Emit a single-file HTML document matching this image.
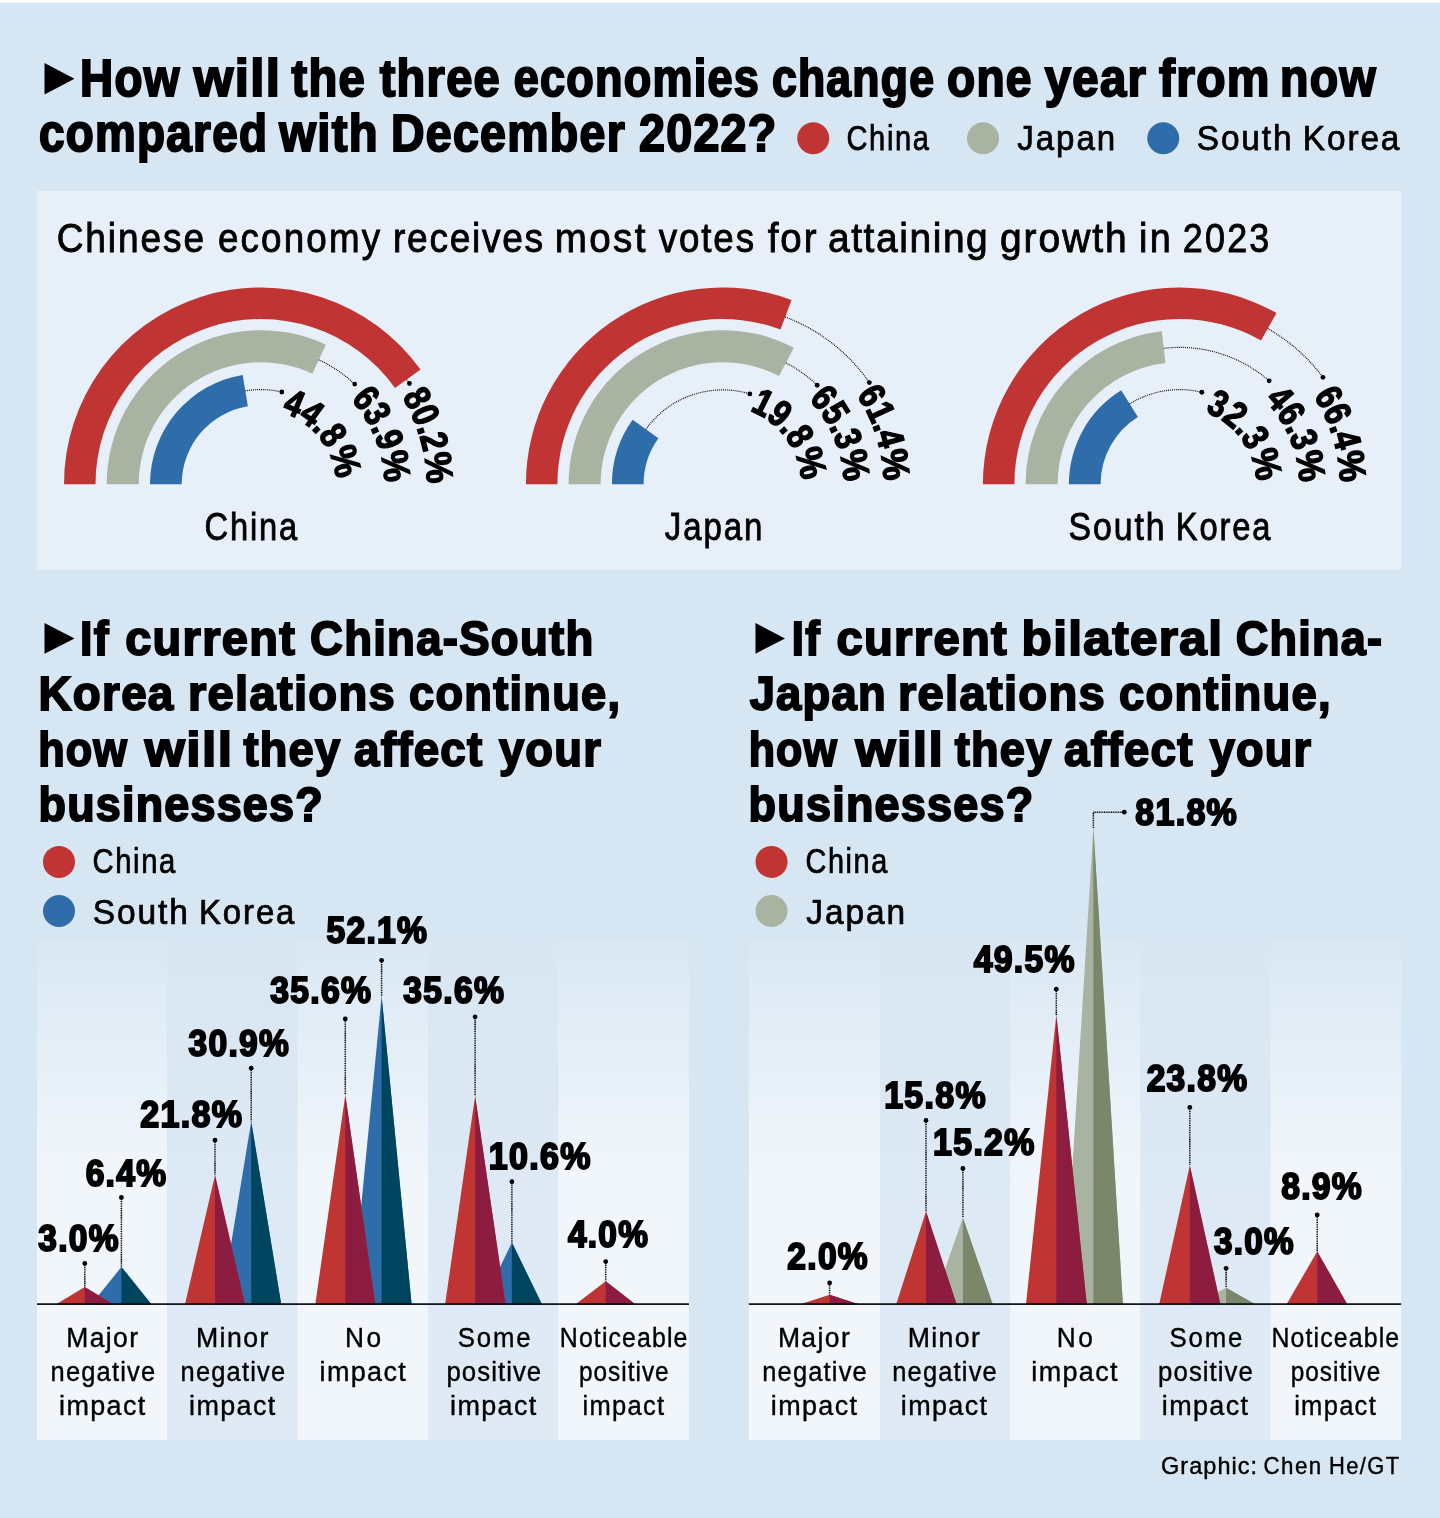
<!DOCTYPE html>
<html lang="en"><head><meta charset="utf-8"><title>How will the three economies change one year from now</title>
<style>
html,body{margin:0;padding:0;background:#d6e6f3;overflow:hidden;}
svg{display:block}
text{font-family:"Liberation Sans",sans-serif;fill:#000;stroke:#000;stroke-linejoin:miter;stroke-miterlimit:3;}
.b text,.b{font-weight:bold}
.r{font-weight:normal}
</style></head>
<body>
<svg width="1440" height="1518" viewBox="0 0 1440 1518">
<defs>
<linearGradient id="cg" gradientUnits="userSpaceOnUse" x1="0" y1="940" x2="0" y2="1440">
<stop offset="0" stop-color="#dae8f4"/><stop offset="0.48" stop-color="#f1f6fb"/><stop offset="1" stop-color="#f1f6fb"/>
</linearGradient>
<linearGradient id="cf" gradientUnits="userSpaceOnUse" x1="0" y1="940" x2="0" y2="1440"><stop offset="0" stop-color="#d8e7f3"/><stop offset="0.5" stop-color="#dde9f5"/><stop offset="1" stop-color="#dfeaf5"/></linearGradient>
<path id="c1" d="M401.71 396.79 A165.90 165.90 0 0 1 411.06 554.31"/><path id="c2" d="M350.66 399.58 A123.50 123.50 0 0 1 372.63 536.39"/><path id="c3" d="M281.40 412.22 A74.90 74.90 0 0 1 328.58 515.85"/><path id="c4" d="M856.38 394.63 A161.00 161.00 0 0 1 868.52 552.24"/><path id="c5" d="M808.54 399.30 A120.80 120.80 0 0 1 832.08 535.25"/><path id="c6" d="M749.68 410.73 A78.30 78.30 0 0 1 793.56 517.29"/><path id="c7" d="M1313.32 395.98 A160.20 160.20 0 0 1 1324.79 551.90"/><path id="c8" d="M1264.47 400.07 A119.50 119.50 0 0 1 1287.90 534.70"/><path id="c9" d="M1204.89 412.11 A76.40 76.40 0 0 1 1248.84 516.49"/>
</defs>
<rect x="0" y="0" width="1440" height="1518" fill="#d6e6f3"/>
<rect x="0" y="0" width="1440" height="2.6" fill="#ffffff"/>
<rect x="37" y="190.7" width="1364.3" height="379.3" fill="#e7eff8"/>
<polygon points="44.5,63 74.5,78.75 44.5,94.5" fill="#000"/>
<polygon points="44.5,623 74.5,638.375 44.5,653.75" fill="#000"/>
<polygon points="755.5,623 785,638.375 755.5,653.75" fill="#000"/>
<circle cx="813.25" cy="138.25" r="16" fill="#c03533"/>
<circle cx="983" cy="138.25" r="16" fill="#a9b3a2"/>
<circle cx="1163.25" cy="138.25" r="16" fill="#2f6caa"/>
<circle cx="59" cy="861.9" r="16" fill="#c03533"/>
<circle cx="59" cy="911" r="16" fill="#2f6caa"/>
<circle cx="771.5" cy="861.9" r="16" fill="#c03533"/>
<circle cx="771.5" cy="911" r="16" fill="#a9b3a2"/>
<path d="M64.00 484.20 A196.7 196.7 0 0 1 420.56 369.58 L394.96 387.94 A165.2 165.2 0 0 0 95.50 484.20 Z" fill="#c03533"/>
<circle cx="409.42" cy="383.51" r="2.4" fill="#000"/>
<path d="M406.66 379.55 A179.6 179.6 0 0 1 409.42 383.51" fill="none" stroke="#000" stroke-width="1.15" stroke-dasharray="0.95 1.0"/>
<path d="M106.70 484.20 A154 154 0 0 1 325.83 344.65 L312.30 373.65 A122 122 0 0 0 138.70 484.20 Z" fill="#a9b3a2"/>
<circle cx="354.69" cy="384.11" r="2.4" fill="#000"/>
<path d="M318.77 359.78 A137.3 137.3 0 0 1 354.69 384.11" fill="none" stroke="#000" stroke-width="1.15" stroke-dasharray="0.95 1.0"/>
<path d="M150.00 484.20 A110.7 110.7 0 0 1 242.70 374.97 L247.85 406.25 A79 79 0 0 0 181.70 484.20 Z" fill="#2f6caa"/>
<circle cx="281.82" cy="391.99" r="2.4" fill="#000"/>
<path d="M245.31 390.86 A94.6 94.6 0 0 1 281.82 391.99" fill="none" stroke="#000" stroke-width="1.15" stroke-dasharray="0.95 1.0"/>
<path d="M525.90 484.20 A196.7 196.7 0 0 1 791.55 299.98 L780.51 329.48 A165.2 165.2 0 0 0 557.40 484.20 Z" fill="#c03533"/>
<circle cx="869.35" cy="382.58" r="2.4" fill="#000"/>
<path d="M785.17 317.03 A178.5 178.5 0 0 1 869.35 382.58" fill="none" stroke="#000" stroke-width="1.15" stroke-dasharray="0.95 1.0"/>
<path d="M568.60 484.20 A154 154 0 0 1 793.80 347.65 L779.01 376.02 A122 122 0 0 0 600.60 484.20 Z" fill="#a9b3a2"/>
<circle cx="817.18" cy="385.23" r="2.4" fill="#000"/>
<path d="M785.90 362.81 A136.9 136.9 0 0 1 817.18 385.23" fill="none" stroke="#000" stroke-width="1.15" stroke-dasharray="0.95 1.0"/>
<path d="M611.90 484.20 A110.7 110.7 0 0 1 632.63 419.70 L658.40 438.17 A79 79 0 0 0 643.60 484.20 Z" fill="#2f6caa"/>
<circle cx="749.86" cy="393.92" r="2.4" fill="#000"/>
<path d="M645.96 429.25 A94.3 94.3 0 0 1 749.86 393.92" fill="none" stroke="#000" stroke-width="1.15" stroke-dasharray="0.95 1.0"/>
<path d="M982.90 484.20 A196.7 196.7 0 0 1 1276.52 313.03 L1261.00 340.45 A165.2 165.2 0 0 0 1014.40 484.20 Z" fill="#c03533"/>
<circle cx="1322.96" cy="377.34" r="2.4" fill="#000"/>
<path d="M1267.70 328.61 A178.8 178.8 0 0 1 1322.96 377.34" fill="none" stroke="#000" stroke-width="1.15" stroke-dasharray="0.95 1.0"/>
<path d="M1025.60 484.20 A154 154 0 0 1 1161.74 331.24 L1165.45 363.02 A122 122 0 0 0 1057.60 484.20 Z" fill="#a9b3a2"/>
<circle cx="1269.17" cy="380.80" r="2.4" fill="#000"/>
<path d="M1163.73 348.32 A136.8 136.8 0 0 1 1269.17 380.80" fill="none" stroke="#000" stroke-width="1.15" stroke-dasharray="0.95 1.0"/>
<path d="M1068.90 484.20 A110.7 110.7 0 0 1 1121.17 390.18 L1137.90 417.10 A79 79 0 0 0 1100.60 484.20 Z" fill="#2f6caa"/>
<circle cx="1201.84" cy="392.25" r="2.4" fill="#000"/>
<path d="M1129.67 403.85 A94.6 94.6 0 0 1 1201.84 392.25" fill="none" stroke="#000" stroke-width="1.15" stroke-dasharray="0.95 1.0"/>
<rect x="37" y="940.3" width="130.00" height="499.70" fill="url(#cg)"/>
<rect x="167" y="940.3" width="130.50" height="499.70" fill="url(#cf)"/>
<rect x="297.5" y="940.3" width="130.50" height="499.70" fill="url(#cg)"/>
<rect x="428" y="940.3" width="130.00" height="499.70" fill="url(#cf)"/>
<rect x="558" y="940.3" width="131.00" height="499.70" fill="url(#cg)"/>
<polygon points="91.40,1304.2 121.40,1266.90 151.40,1304.2" fill="#2f6caa"/>
<polygon points="121.40,1304.2 121.40,1266.90 151.40,1304.2" fill="#004560"/>
<polygon points="56.10,1304.2 84.70,1286.90 113.30,1304.2" fill="#c03533"/>
<polygon points="84.70,1304.2 84.70,1286.90 113.30,1304.2" fill="#8c1d40"/>
<polygon points="221.20,1304.2 251.20,1121.40 281.20,1304.2" fill="#2f6caa"/>
<polygon points="251.20,1304.2 251.20,1121.40 281.20,1304.2" fill="#004560"/>
<polygon points="185.00,1304.2 215.00,1175.30 245.00,1304.2" fill="#c03533"/>
<polygon points="215.00,1304.2 215.00,1175.30 245.00,1304.2" fill="#8c1d40"/>
<polygon points="351.60,1304.2 381.60,996.30 411.60,1304.2" fill="#2f6caa"/>
<polygon points="381.60,1304.2 381.60,996.30 411.60,1304.2" fill="#004560"/>
<polygon points="315.30,1304.2 345.30,1095.00 375.30,1304.2" fill="#c03533"/>
<polygon points="345.30,1304.2 345.30,1095.00 375.30,1304.2" fill="#8c1d40"/>
<polygon points="481.90,1304.2 511.90,1242.60 541.90,1304.2" fill="#2f6caa"/>
<polygon points="511.90,1304.2 511.90,1242.60 541.90,1304.2" fill="#004560"/>
<polygon points="445.10,1304.2 475.10,1096.00 505.60,1304.2" fill="#c03533"/>
<polygon points="475.10,1304.2 475.10,1096.00 505.60,1304.2" fill="#8c1d40"/>
<polygon points="575.70,1304.2 605.70,1281.30 635.30,1304.2" fill="#c03533"/>
<polygon points="605.70,1304.2 605.70,1281.30 635.30,1304.2" fill="#8c1d40"/>
<line x1="84.8" y1="1263.5" x2="84.8" y2="1286.9" stroke="#000" stroke-width="1.5" stroke-dasharray="1.06 0.7"/>
<circle cx="84.8" cy="1263.5" r="2.4" fill="#000"/>
<line x1="121.4" y1="1197.5" x2="121.4" y2="1266.9" stroke="#000" stroke-width="1.5" stroke-dasharray="1.06 0.7"/>
<circle cx="121.4" cy="1197.5" r="2.4" fill="#000"/>
<line x1="215" y1="1140.2" x2="215" y2="1175.3" stroke="#000" stroke-width="1.5" stroke-dasharray="1.06 0.7"/>
<circle cx="215" cy="1140.2" r="2.4" fill="#000"/>
<line x1="251.2" y1="1068.2" x2="251.2" y2="1121.4" stroke="#000" stroke-width="1.5" stroke-dasharray="1.06 0.7"/>
<circle cx="251.2" cy="1068.2" r="2.4" fill="#000"/>
<line x1="345.3" y1="1019" x2="345.3" y2="1095" stroke="#000" stroke-width="1.5" stroke-dasharray="1.06 0.7"/>
<circle cx="345.3" cy="1019" r="2.4" fill="#000"/>
<line x1="381.6" y1="960.3" x2="381.6" y2="996.3" stroke="#000" stroke-width="1.5" stroke-dasharray="1.06 0.7"/>
<circle cx="381.6" cy="960.3" r="2.4" fill="#000"/>
<line x1="475.1" y1="1016.8" x2="475.1" y2="1096" stroke="#000" stroke-width="1.5" stroke-dasharray="1.06 0.7"/>
<circle cx="475.1" cy="1016.8" r="2.4" fill="#000"/>
<line x1="511.9" y1="1181.7" x2="511.9" y2="1242.6" stroke="#000" stroke-width="1.5" stroke-dasharray="1.06 0.7"/>
<circle cx="511.9" cy="1181.7" r="2.4" fill="#000"/>
<line x1="605.7" y1="1261.6" x2="605.7" y2="1281.3" stroke="#000" stroke-width="1.5" stroke-dasharray="1.06 0.7"/>
<circle cx="605.7" cy="1261.6" r="2.4" fill="#000"/>
<rect x="37" y="1303.30" width="652.00" height="1.6" fill="#000"/>
<rect x="748.8" y="940.3" width="131.20" height="499.70" fill="url(#cg)"/>
<rect x="880" y="940.3" width="130.20" height="499.70" fill="url(#cf)"/>
<rect x="1010.2" y="940.3" width="130.40" height="499.70" fill="url(#cg)"/>
<rect x="1140.6" y="940.3" width="129.80" height="499.70" fill="url(#cf)"/>
<rect x="1270.4" y="940.3" width="130.80" height="499.70" fill="url(#cg)"/>
<polygon points="800.40,1304.2 829.60,1294.80 858.80,1304.2" fill="#c03533"/>
<polygon points="829.60,1304.2 829.60,1294.80 858.80,1304.2" fill="#8c1d40"/>
<polygon points="932.90,1304.2 962.90,1217.70 992.70,1304.2" fill="#a9b3a2"/>
<polygon points="962.90,1304.2 962.90,1217.70 992.70,1304.2" fill="#7b866a"/>
<polygon points="896.20,1304.2 926.00,1211.50 956.50,1304.2" fill="#c03533"/>
<polygon points="926.00,1304.2 926.00,1211.50 956.50,1304.2" fill="#8c1d40"/>
<polygon points="1063.90,1304.2 1093.40,828.00 1122.90,1304.2" fill="#a9b3a2"/>
<polygon points="1093.40,1304.2 1093.40,828.00 1122.90,1304.2" fill="#7b866a"/>
<polygon points="1026.00,1304.2 1056.30,1014.90 1086.80,1304.2" fill="#c03533"/>
<polygon points="1056.30,1304.2 1056.30,1014.90 1086.80,1304.2" fill="#8c1d40"/>
<polygon points="1196.60,1304.2 1226.10,1287.80 1255.30,1304.2" fill="#a9b3a2"/>
<polygon points="1226.10,1304.2 1226.10,1287.80 1255.30,1304.2" fill="#7b866a"/>
<polygon points="1159.20,1304.2 1189.80,1165.40 1220.40,1304.2" fill="#c03533"/>
<polygon points="1189.80,1304.2 1189.80,1165.40 1220.40,1304.2" fill="#8c1d40"/>
<polygon points="1286.60,1304.2 1317.20,1251.50 1347.20,1304.2" fill="#c03533"/>
<polygon points="1317.20,1304.2 1317.20,1251.50 1347.20,1304.2" fill="#8c1d40"/>
<line x1="829.6" y1="1283" x2="829.6" y2="1294.8" stroke="#000" stroke-width="1.5" stroke-dasharray="1.06 0.7"/>
<circle cx="829.6" cy="1283" r="2.4" fill="#000"/>
<line x1="926" y1="1120.4" x2="926" y2="1211.5" stroke="#000" stroke-width="1.5" stroke-dasharray="1.06 0.7"/>
<circle cx="926" cy="1120.4" r="2.4" fill="#000"/>
<line x1="962.9" y1="1168.5" x2="962.9" y2="1217.7" stroke="#000" stroke-width="1.5" stroke-dasharray="1.06 0.7"/>
<circle cx="962.9" cy="1168.5" r="2.4" fill="#000"/>
<line x1="1056.3" y1="989.2" x2="1056.3" y2="1014.9" stroke="#000" stroke-width="1.5" stroke-dasharray="1.06 0.7"/>
<circle cx="1056.3" cy="989.2" r="2.4" fill="#000"/>
<path d="M1093.4 828 L1093.4 812.2 L1124.3 812.2" fill="none" stroke="#000" stroke-width="1.5" stroke-dasharray="1.06 0.7"/>
<circle cx="1124.3" cy="812.2" r="2.4" fill="#000"/>
<line x1="1189.8" y1="1107.4" x2="1189.8" y2="1165.4" stroke="#000" stroke-width="1.5" stroke-dasharray="1.06 0.7"/>
<circle cx="1189.8" cy="1107.4" r="2.4" fill="#000"/>
<line x1="1226.1" y1="1268.3" x2="1226.1" y2="1287.8" stroke="#000" stroke-width="1.5" stroke-dasharray="1.06 0.7"/>
<circle cx="1226.1" cy="1268.3" r="2.4" fill="#000"/>
<line x1="1317.2" y1="1214.9" x2="1317.2" y2="1251.5" stroke="#000" stroke-width="1.5" stroke-dasharray="1.06 0.7"/>
<circle cx="1317.2" cy="1214.9" r="2.4" fill="#000"/>
<rect x="748.8" y="1303.30" width="652.40" height="1.6" fill="#000"/>
<text class="b" y="96.19" font-size="51.28" stroke-width="2.02"><tspan x="80.03" textLength="100.67" lengthAdjust="spacingAndGlyphs" letter-spacing="1.411">How</tspan> <tspan x="193.80" textLength="87.61" lengthAdjust="spacingAndGlyphs" letter-spacing="1.411">will</tspan> <tspan x="291.43" textLength="74.62" lengthAdjust="spacingAndGlyphs" letter-spacing="1.411">the</tspan> <tspan x="379.67" textLength="121.37" lengthAdjust="spacingAndGlyphs" letter-spacing="1.411">three</tspan> <tspan x="513.73" textLength="246.45" lengthAdjust="spacingAndGlyphs" letter-spacing="1.411">economies</tspan> <tspan x="771.98" textLength="163.22" lengthAdjust="spacingAndGlyphs" letter-spacing="1.411">change</tspan> <tspan x="946.97" textLength="85.80" lengthAdjust="spacingAndGlyphs" letter-spacing="1.411">one</tspan> <tspan x="1044.68" textLength="102.61" lengthAdjust="spacingAndGlyphs" letter-spacing="1.411">year</tspan> <tspan x="1158.94" textLength="111.86" lengthAdjust="spacingAndGlyphs" letter-spacing="1.411">from</tspan> <tspan x="1280.01" textLength="96.95" lengthAdjust="spacingAndGlyphs" letter-spacing="1.411">now</tspan></text>
<text class="b" y="150.79" font-size="51.28" stroke-width="2.02"><tspan x="38.97" textLength="229.33" lengthAdjust="spacingAndGlyphs" letter-spacing="1.411">compared</tspan> <tspan x="279.17" textLength="99.74" lengthAdjust="spacingAndGlyphs" letter-spacing="1.411">with</tspan> <tspan x="391.01" textLength="235.02" lengthAdjust="spacingAndGlyphs" letter-spacing="1.411">December</tspan> <tspan x="638.96" textLength="138.66" lengthAdjust="spacingAndGlyphs" letter-spacing="1.411">2022?</tspan></text>
<text class="b" y="654.54" font-size="48.81" stroke-width="1.92"><tspan x="80.08" textLength="29.79" lengthAdjust="spacingAndGlyphs" letter-spacing="1.343">If</tspan> <tspan x="125.21" textLength="170.89" lengthAdjust="spacingAndGlyphs" letter-spacing="1.343">current</tspan> <tspan x="309.97" textLength="284.59" lengthAdjust="spacingAndGlyphs" letter-spacing="1.343">China-South</tspan></text>
<text class="b" y="710.29" font-size="48.81" stroke-width="1.92"><tspan x="38.54" textLength="136.03" lengthAdjust="spacingAndGlyphs" letter-spacing="1.343">Korea</tspan> <tspan x="187.98" textLength="208.05" lengthAdjust="spacingAndGlyphs" letter-spacing="1.343">relations</tspan> <tspan x="408.98" textLength="212.30" lengthAdjust="spacingAndGlyphs" letter-spacing="1.343">continue,</tspan></text>
<text class="b" y="765.54" font-size="48.81" stroke-width="1.92"><tspan x="38.15" textLength="90.05" lengthAdjust="spacingAndGlyphs" letter-spacing="1.343">how</tspan> <tspan x="144.82" textLength="88.63" lengthAdjust="spacingAndGlyphs" letter-spacing="1.343">will</tspan> <tspan x="243.39" textLength="97.93" lengthAdjust="spacingAndGlyphs" letter-spacing="1.343">they</tspan> <tspan x="353.93" textLength="129.65" lengthAdjust="spacingAndGlyphs" letter-spacing="1.343">affect</tspan> <tspan x="498.89" textLength="103.36" lengthAdjust="spacingAndGlyphs" letter-spacing="1.343">your</tspan></text>
<text class="b" y="821.04" font-size="48.81" stroke-width="1.92"><tspan x="38.58" textLength="285.19" lengthAdjust="spacingAndGlyphs" letter-spacing="1.343">businesses?</tspan></text>
<text class="b" y="654.54" font-size="48.81" stroke-width="1.92"><tspan x="791.87" textLength="29.26" lengthAdjust="spacingAndGlyphs" letter-spacing="1.343">If</tspan> <tspan x="836.45" textLength="171.65" lengthAdjust="spacingAndGlyphs" letter-spacing="1.343">current</tspan> <tspan x="1021.63" textLength="201.67" lengthAdjust="spacingAndGlyphs" letter-spacing="1.343">bilateral</tspan> <tspan x="1235.73" textLength="147.50" lengthAdjust="spacingAndGlyphs" letter-spacing="1.343">China-</tspan></text>
<text class="b" y="710.29" font-size="48.81" stroke-width="1.92"><tspan x="749.64" textLength="137.41" lengthAdjust="spacingAndGlyphs" letter-spacing="1.343">Japan</tspan> <tspan x="897.98" textLength="208.05" lengthAdjust="spacingAndGlyphs" letter-spacing="1.343">relations</tspan> <tspan x="1118.97" textLength="212.81" lengthAdjust="spacingAndGlyphs" letter-spacing="1.343">continue,</tspan></text>
<text class="b" y="765.54" font-size="48.81" stroke-width="1.92"><tspan x="748.66" textLength="89.53" lengthAdjust="spacingAndGlyphs" letter-spacing="1.343">how</tspan> <tspan x="855.57" textLength="88.63" lengthAdjust="spacingAndGlyphs" letter-spacing="1.343">will</tspan> <tspan x="954.64" textLength="97.93" lengthAdjust="spacingAndGlyphs" letter-spacing="1.343">they</tspan> <tspan x="1063.93" textLength="129.90" lengthAdjust="spacingAndGlyphs" letter-spacing="1.343">affect</tspan> <tspan x="1209.64" textLength="102.61" lengthAdjust="spacingAndGlyphs" letter-spacing="1.343">your</tspan></text>
<text class="b" y="821.04" font-size="48.81" stroke-width="1.92"><tspan x="748.57" textLength="285.95" lengthAdjust="spacingAndGlyphs" letter-spacing="1.343">businesses?</tspan></text>
<text class="r" y="252.26" font-size="41.45" stroke-width="0.88"><tspan x="56.66" textLength="149.38" lengthAdjust="spacingAndGlyphs" letter-spacing="2.164">Chinese</tspan> <tspan x="217.99" textLength="164.27" lengthAdjust="spacingAndGlyphs" letter-spacing="2.432">economy</tspan> <tspan x="393.08" textLength="151.67" lengthAdjust="spacingAndGlyphs" letter-spacing="1.880">receives</tspan> <tspan x="554.70" textLength="93.14" lengthAdjust="spacingAndGlyphs" letter-spacing="2.558">most</tspan> <tspan x="658.69" textLength="97.27" lengthAdjust="spacingAndGlyphs" letter-spacing="2.145">votes</tspan> <tspan x="767.71" textLength="50.75" lengthAdjust="spacingAndGlyphs" letter-spacing="2.133">for</tspan> <tspan x="828.00" textLength="161.35" lengthAdjust="spacingAndGlyphs" letter-spacing="1.674">attaining</tspan> <tspan x="999.90" textLength="128.86" lengthAdjust="spacingAndGlyphs" letter-spacing="2.116">growth</tspan> <tspan x="1139.04" textLength="33.92" lengthAdjust="spacingAndGlyphs" letter-spacing="2.454">in</tspan> <tspan x="1182.70" textLength="88.92" lengthAdjust="spacingAndGlyphs" letter-spacing="2.593">2023</tspan></text>
<text class="r" y="150.12" font-size="35.25" stroke-width="0.75"><tspan x="846.45" textLength="84.20" lengthAdjust="spacingAndGlyphs" letter-spacing="1.987">China</tspan></text>
<text class="r" y="150.12" font-size="35.25" stroke-width="0.75"><tspan x="1017.34" textLength="99.69" lengthAdjust="spacingAndGlyphs" letter-spacing="2.049">Japan</tspan></text>
<text class="r" y="150.12" font-size="35.25" stroke-width="0.75"><tspan x="1196.81" textLength="96.56" lengthAdjust="spacingAndGlyphs" letter-spacing="1.952">South</tspan> <tspan x="1302.75" textLength="98.59" lengthAdjust="spacingAndGlyphs" letter-spacing="2.006">Korea</tspan></text>
<text class="r" y="873.38" font-size="34.54" stroke-width="0.73"><tspan x="92.44" textLength="84.51" lengthAdjust="spacingAndGlyphs" letter-spacing="1.948">China</tspan></text>
<text class="r" y="923.63" font-size="34.54" stroke-width="0.73"><tspan x="92.81" textLength="96.82" lengthAdjust="spacingAndGlyphs" letter-spacing="1.913">South</tspan> <tspan x="199.03" textLength="97.29" lengthAdjust="spacingAndGlyphs" letter-spacing="1.966">Korea</tspan></text>
<text class="r" y="873.38" font-size="34.54" stroke-width="0.73"><tspan x="805.45" textLength="83.48" lengthAdjust="spacingAndGlyphs" letter-spacing="1.948">China</tspan></text>
<text class="r" y="923.63" font-size="34.54" stroke-width="0.73"><tspan x="806.33" textLength="100.63" lengthAdjust="spacingAndGlyphs" letter-spacing="2.008">Japan</tspan></text>
<text class="r" y="539.60" font-size="38.07" stroke-width="0.81"><tspan x="204.52" textLength="94.47" lengthAdjust="spacingAndGlyphs" letter-spacing="2.146">China</tspan></text>
<text class="r" y="539.60" font-size="38.07" stroke-width="0.81"><tspan x="664.84" textLength="99.59" lengthAdjust="spacingAndGlyphs" letter-spacing="2.213">Japan</tspan></text>
<text class="r" y="539.60" font-size="38.07" stroke-width="0.81"><tspan x="1068.60" textLength="97.81" lengthAdjust="spacingAndGlyphs" letter-spacing="2.108">South</tspan> <tspan x="1175.79" textLength="96.51" lengthAdjust="spacingAndGlyphs" letter-spacing="2.166">Korea</tspan></text>
<text class="r" y="1474.20" font-size="23.69" stroke-width="0.40"><tspan x="1161.00" textLength="97.19" lengthAdjust="spacingAndGlyphs" letter-spacing="1.077">Graphic:</tspan> <tspan x="1263.54" textLength="59.21" lengthAdjust="spacingAndGlyphs" letter-spacing="1.583">Chen</tspan> <tspan x="1329.07" textLength="71.49" lengthAdjust="spacingAndGlyphs" letter-spacing="1.476">He/GT</tspan></text>
<text class="b" y="1251.00" font-size="36.63" stroke-width="2.00"><tspan x="38.29" textLength="81.55" lengthAdjust="spacingAndGlyphs" letter-spacing="1.400">3.0%</tspan></text>
<text class="b" y="1185.85" font-size="36.63" stroke-width="2.00"><tspan x="85.67" textLength="81.67" lengthAdjust="spacingAndGlyphs" letter-spacing="1.400">6.4%</tspan></text>
<text class="b" y="1127.10" font-size="36.63" stroke-width="2.00"><tspan x="140.17" textLength="103.09" lengthAdjust="spacingAndGlyphs" letter-spacing="1.400">21.8%</tspan></text>
<text class="b" y="1055.90" font-size="36.63" stroke-width="2.00"><tspan x="188.59" textLength="101.45" lengthAdjust="spacingAndGlyphs" letter-spacing="1.400">30.9%</tspan></text>
<text class="b" y="1003.40" font-size="36.63" stroke-width="2.00"><tspan x="270.19" textLength="102.15" lengthAdjust="spacingAndGlyphs" letter-spacing="1.400">35.6%</tspan></text>
<text class="b" y="942.90" font-size="36.63" stroke-width="2.00"><tspan x="326.39" textLength="101.95" lengthAdjust="spacingAndGlyphs" letter-spacing="1.400">52.1%</tspan></text>
<text class="b" y="1003.40" font-size="36.63" stroke-width="2.00"><tspan x="403.29" textLength="101.95" lengthAdjust="spacingAndGlyphs" letter-spacing="1.400">35.6%</tspan></text>
<text class="b" y="1168.60" font-size="36.63" stroke-width="2.00"><tspan x="488.80" textLength="103.05" lengthAdjust="spacingAndGlyphs" letter-spacing="1.400">10.6%</tspan></text>
<text class="b" y="1246.90" font-size="36.63" stroke-width="2.00"><tspan x="567.91" textLength="81.23" lengthAdjust="spacingAndGlyphs" letter-spacing="1.400">4.0%</tspan></text>
<text class="b" y="1268.60" font-size="36.63" stroke-width="2.00"><tspan x="787.37" textLength="81.57" lengthAdjust="spacingAndGlyphs" letter-spacing="1.400">2.0%</tspan></text>
<text class="b" y="1107.80" font-size="36.63" stroke-width="2.00"><tspan x="884.21" textLength="102.64" lengthAdjust="spacingAndGlyphs" letter-spacing="1.400">15.8%</tspan></text>
<text class="b" y="1154.80" font-size="36.63" stroke-width="2.00"><tspan x="933.11" textLength="102.54" lengthAdjust="spacingAndGlyphs" letter-spacing="1.400">15.2%</tspan></text>
<text class="b" y="972.00" font-size="36.63" stroke-width="2.00"><tspan x="973.72" textLength="102.13" lengthAdjust="spacingAndGlyphs" letter-spacing="1.400">49.5%</tspan></text>
<text class="b" y="825.10" font-size="36.63" stroke-width="2.00"><tspan x="1135.27" textLength="102.89" lengthAdjust="spacingAndGlyphs" letter-spacing="1.400">81.8%</tspan></text>
<text class="b" y="1090.90" font-size="36.63" stroke-width="2.00"><tspan x="1146.67" textLength="101.68" lengthAdjust="spacingAndGlyphs" letter-spacing="1.400">23.8%</tspan></text>
<text class="b" y="1253.80" font-size="36.63" stroke-width="2.00"><tspan x="1213.89" textLength="80.95" lengthAdjust="spacingAndGlyphs" letter-spacing="1.400">3.0%</tspan></text>
<text class="b" y="1198.90" font-size="36.63" stroke-width="2.00"><tspan x="1281.17" textLength="81.88" lengthAdjust="spacingAndGlyphs" letter-spacing="1.400">8.9%</tspan></text>
<text class="r" y="1347.00" font-size="27.76" stroke-width="0.40"><tspan x="66.22" textLength="73.22" lengthAdjust="spacingAndGlyphs" letter-spacing="1.468">Major</tspan></text>
<text class="r" y="1380.80" font-size="27.76" stroke-width="0.40"><tspan x="50.57" textLength="105.68" lengthAdjust="spacingAndGlyphs" letter-spacing="1.273">negative</tspan></text>
<text class="r" y="1414.70" font-size="27.76" stroke-width="0.40"><tspan x="59.11" textLength="87.56" lengthAdjust="spacingAndGlyphs" letter-spacing="1.400">impact</tspan></text>
<text class="r" y="1347.00" font-size="27.76" stroke-width="0.40"><tspan x="195.96" textLength="73.74" lengthAdjust="spacingAndGlyphs" letter-spacing="1.468">Minor</tspan></text>
<text class="r" y="1380.80" font-size="27.76" stroke-width="0.40"><tspan x="180.57" textLength="105.68" lengthAdjust="spacingAndGlyphs" letter-spacing="1.273">negative</tspan></text>
<text class="r" y="1414.70" font-size="27.76" stroke-width="0.40"><tspan x="189.11" textLength="87.56" lengthAdjust="spacingAndGlyphs" letter-spacing="1.400">impact</tspan></text>
<text class="r" y="1347.00" font-size="27.76" stroke-width="0.40"><tspan x="344.99" textLength="38.92" lengthAdjust="spacingAndGlyphs" letter-spacing="2.834">No</tspan></text>
<text class="r" y="1380.80" font-size="27.76" stroke-width="0.40"><tspan x="319.61" textLength="87.56" lengthAdjust="spacingAndGlyphs" letter-spacing="1.400">impact</tspan></text>
<text class="r" y="1347.00" font-size="27.76" stroke-width="0.40"><tspan x="457.73" textLength="74.88" lengthAdjust="spacingAndGlyphs" letter-spacing="2.056">Some</tspan></text>
<text class="r" y="1380.80" font-size="27.76" stroke-width="0.40"><tspan x="446.42" textLength="95.84" lengthAdjust="spacingAndGlyphs" letter-spacing="1.139">positive</tspan></text>
<text class="r" y="1414.70" font-size="27.76" stroke-width="0.40"><tspan x="450.11" textLength="87.56" lengthAdjust="spacingAndGlyphs" letter-spacing="1.400">impact</tspan></text>
<text class="r" y="1347.00" font-size="27.76" stroke-width="0.40"><tspan x="559.83" textLength="128.71" lengthAdjust="spacingAndGlyphs" letter-spacing="1.239">Noticeable</tspan></text>
<text class="r" y="1380.80" font-size="27.76" stroke-width="0.40"><tspan x="579.00" textLength="90.66" lengthAdjust="spacingAndGlyphs" letter-spacing="1.139">positive</tspan></text>
<text class="r" y="1414.70" font-size="27.76" stroke-width="0.40"><tspan x="582.44" textLength="82.93" lengthAdjust="spacingAndGlyphs" letter-spacing="1.400">impact</tspan></text>
<text class="r" y="1347.00" font-size="27.76" stroke-width="0.40"><tspan x="777.92" textLength="73.22" lengthAdjust="spacingAndGlyphs" letter-spacing="1.468">Major</tspan></text>
<text class="r" y="1380.80" font-size="27.76" stroke-width="0.40"><tspan x="762.27" textLength="105.68" lengthAdjust="spacingAndGlyphs" letter-spacing="1.273">negative</tspan></text>
<text class="r" y="1414.70" font-size="27.76" stroke-width="0.40"><tspan x="770.81" textLength="87.56" lengthAdjust="spacingAndGlyphs" letter-spacing="1.400">impact</tspan></text>
<text class="r" y="1347.00" font-size="27.76" stroke-width="0.40"><tspan x="907.66" textLength="73.74" lengthAdjust="spacingAndGlyphs" letter-spacing="1.468">Minor</tspan></text>
<text class="r" y="1380.80" font-size="27.76" stroke-width="0.40"><tspan x="892.27" textLength="105.68" lengthAdjust="spacingAndGlyphs" letter-spacing="1.273">negative</tspan></text>
<text class="r" y="1414.70" font-size="27.76" stroke-width="0.40"><tspan x="900.81" textLength="87.56" lengthAdjust="spacingAndGlyphs" letter-spacing="1.400">impact</tspan></text>
<text class="r" y="1347.00" font-size="27.76" stroke-width="0.40"><tspan x="1056.69" textLength="38.92" lengthAdjust="spacingAndGlyphs" letter-spacing="2.834">No</tspan></text>
<text class="r" y="1380.80" font-size="27.76" stroke-width="0.40"><tspan x="1031.31" textLength="87.56" lengthAdjust="spacingAndGlyphs" letter-spacing="1.400">impact</tspan></text>
<text class="r" y="1347.00" font-size="27.76" stroke-width="0.40"><tspan x="1169.43" textLength="74.88" lengthAdjust="spacingAndGlyphs" letter-spacing="2.056">Some</tspan></text>
<text class="r" y="1380.80" font-size="27.76" stroke-width="0.40"><tspan x="1158.12" textLength="95.84" lengthAdjust="spacingAndGlyphs" letter-spacing="1.139">positive</tspan></text>
<text class="r" y="1414.70" font-size="27.76" stroke-width="0.40"><tspan x="1161.81" textLength="87.56" lengthAdjust="spacingAndGlyphs" letter-spacing="1.400">impact</tspan></text>
<text class="r" y="1347.00" font-size="27.76" stroke-width="0.40"><tspan x="1271.53" textLength="128.71" lengthAdjust="spacingAndGlyphs" letter-spacing="1.239">Noticeable</tspan></text>
<text class="r" y="1380.80" font-size="27.76" stroke-width="0.40"><tspan x="1290.70" textLength="90.66" lengthAdjust="spacingAndGlyphs" letter-spacing="1.139">positive</tspan></text>
<text class="r" y="1414.70" font-size="27.76" stroke-width="0.40"><tspan x="1294.14" textLength="82.93" lengthAdjust="spacingAndGlyphs" letter-spacing="1.400">impact</tspan></text>
<g class="b"><text font-size="37.50" stroke-width="1.40"><textPath href="#c1" textLength="60.50" lengthAdjust="spacingAndGlyphs">80.2</textPath><textPath href="#c1" startOffset="61.10" textLength="31.01" lengthAdjust="spacingAndGlyphs">%</textPath></text>
<text font-size="37.50" stroke-width="1.40"><textPath href="#c2" textLength="60.50" lengthAdjust="spacingAndGlyphs">63.9</textPath><textPath href="#c2" startOffset="61.10" textLength="31.01" lengthAdjust="spacingAndGlyphs">%</textPath></text>
<text font-size="37.50" stroke-width="1.40"><textPath href="#c3" textLength="60.50" lengthAdjust="spacingAndGlyphs">44.8</textPath><textPath href="#c3" startOffset="61.10" textLength="31.01" lengthAdjust="spacingAndGlyphs">%</textPath></text>
<text font-size="37.50" stroke-width="1.40"><textPath href="#c4" textLength="60.50" lengthAdjust="spacingAndGlyphs">61.4</textPath><textPath href="#c4" startOffset="61.10" textLength="31.01" lengthAdjust="spacingAndGlyphs">%</textPath></text>
<text font-size="37.50" stroke-width="1.40"><textPath href="#c5" textLength="60.50" lengthAdjust="spacingAndGlyphs">65.3</textPath><textPath href="#c5" startOffset="61.10" textLength="31.01" lengthAdjust="spacingAndGlyphs">%</textPath></text>
<text font-size="37.50" stroke-width="1.40"><textPath href="#c6" textLength="60.50" lengthAdjust="spacingAndGlyphs">19.8</textPath><textPath href="#c6" startOffset="61.10" textLength="31.01" lengthAdjust="spacingAndGlyphs">%</textPath></text>
<text font-size="37.50" stroke-width="1.40"><textPath href="#c7" textLength="60.50" lengthAdjust="spacingAndGlyphs">66.4</textPath><textPath href="#c7" startOffset="61.10" textLength="31.01" lengthAdjust="spacingAndGlyphs">%</textPath></text>
<text font-size="37.50" stroke-width="1.40"><textPath href="#c8" textLength="60.50" lengthAdjust="spacingAndGlyphs">46.3</textPath><textPath href="#c8" startOffset="61.10" textLength="31.01" lengthAdjust="spacingAndGlyphs">%</textPath></text>
<text font-size="37.50" stroke-width="1.40"><textPath href="#c9" textLength="60.50" lengthAdjust="spacingAndGlyphs">32.3</textPath><textPath href="#c9" startOffset="61.10" textLength="31.01" lengthAdjust="spacingAndGlyphs">%</textPath></text></g>
</svg>
</body></html>
